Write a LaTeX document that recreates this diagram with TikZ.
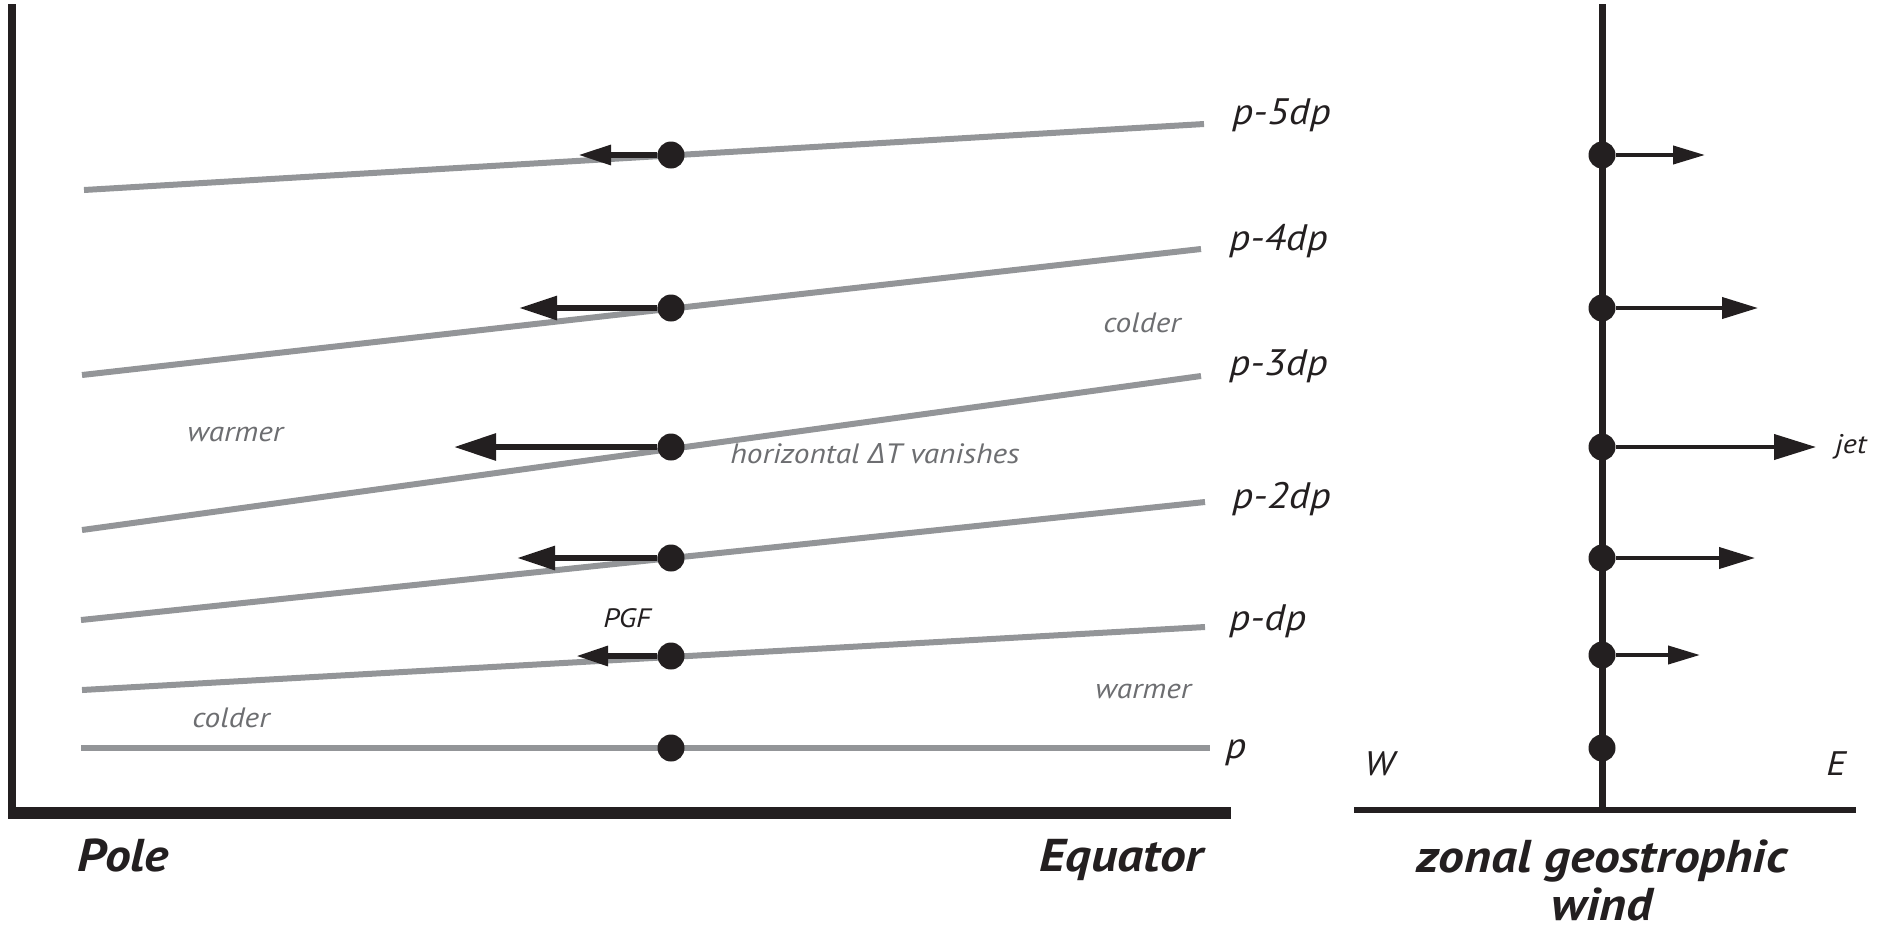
\documentclass[tikz,border=0pt]{standalone}
\usepackage{fontspec}
\setmainfont[FakeStretch=1.12]{PT Sans}
\newfontfamily\deltafont[FakeStretch=1.12]{Open Sans}
\newfontfamily\widefont[FakeStretch=1.12]{PT Sans}
\usetikzlibrary{arrows.meta}
\definecolor{ink}{HTML}{231F20}
\definecolor{isobar}{HTML}{939598}
\definecolor{note}{HTML}{6D6E71}
\begin{document}
\begin{tikzpicture}[x=0.5pt,y=-0.5pt,
  axisline/.style={ink, line width=#1},
  isoline/.style={isobar, line width=3pt},
  parcel/.style={circle, fill=ink, inner sep=0pt, minimum size=13.5pt},
  pgfarrow/.style args={#1/#2}{ink, line width=3pt, -{Triangle[length=#1, width=#2]}},
  windarrow/.style args={#1/#2}{ink, line width=2pt, -{Triangle[length=#1, width=#2]}},
  plabel/.style={anchor=base west, inner sep=0pt, text=ink, font=\fontsize{18.4pt}{18.4pt}\selectfont\itshape},
  graylabel/.style={anchor=base west, inner sep=0pt, text=note, font=\fontsize{14pt}{14pt}\selectfont\itshape},
  blacklabel/.style={anchor=base west, inner sep=0pt, text=ink, font=\fontsize{13.3pt}{13.3pt}\selectfont\itshape},
  bigtitle/.style={inner sep=0pt, text=ink, font=\fontsize{23pt}{23pt}\selectfont\bfseries\itshape},
  widetitle/.style={inner sep=0pt, text=ink, font=\fontsize{23pt}{27pt}\widefont\bfseries\itshape, align=center},
]
\useasboundingbox (0,0) rectangle (1889,933);

% ---------- left panel: axes ----------
\coordinate (vtop) at (12,4);
\coordinate (vbot) at (12,813);
\coordinate (hl) at (8,813);
\coordinate (hr) at (1231,813);
\draw[axisline=4pt] (vtop) -- (vbot);
\draw[axisline=6pt] (hl) -- (hr);

% ---------- isobars ----------
\coordinate (L0) at (81,748);  \coordinate (R0) at (1210,748);
\coordinate (L1) at (82,690);  \coordinate (R1) at (1205,627);
\coordinate (L2) at (81,620);  \coordinate (R2) at (1205,502);
\coordinate (L3) at (82,530);  \coordinate (R3) at (1201,376);
\coordinate (L4) at (82,375);  \coordinate (R4) at (1201,249);
\coordinate (L5) at (84,190);  \coordinate (R5) at (1204,124);
\foreach \i in {0,...,5} { \draw[isoline] (L\i) -- (R\i); }

% ---------- parcels on isobars ----------
\node[parcel] (d0) at (671,748) {};
\node[parcel] (d1) at (671,656) {};
\node[parcel] (d2) at (671,558) {};
\node[parcel] (d3) at (671,447) {};
\node[parcel] (d4) at (671,308) {};
\node[parcel] (d5) at (671,155) {};

% ---------- PGF arrows ----------
\coordinate (t1) at (576,656);
\coordinate (t2) at (517,558);
\coordinate (t3) at (454,447);
\coordinate (t4) at (519,308);
\coordinate (t5) at (578,155);
\draw[pgfarrow=16pt/9.5pt] (d1) -- (t1);
\draw[pgfarrow=19pt/11.5pt] (d2) -- (t2);
\draw[pgfarrow=21pt/13pt] (d3) -- (t3);
\draw[pgfarrow=19pt/11.5pt] (d4) -- (t4);
\draw[pgfarrow=16.5pt/9.5pt] (d5) -- (t5);

% ---------- isobar labels ----------
\node[plabel] (lab0) at (1225,758) {p};
\node[plabel] (lab1) at (1229,630) {p-dp};
\node[plabel] (lab2) at (1232,508) {p-2dp};
\node[plabel] (lab3) at (1229,375) {p-3dp};
\node[plabel] (lab4) at (1229,250) {p-4dp};
\node[plabel] (lab5) at (1232,124) {p-5dp};

% ---------- annotations ----------
\node[graylabel] (coldR) at (1103,332) {colder};
\node[graylabel] (warmL) at (187,441) {warmer};
\node[graylabel] (vanish) at (730,463) {horizontal {\deltafont\itshape Δ}T vanishes};
\node[graylabel] (warmR) at (1095,698) {warmer};
\node[graylabel] (coldL) at (192,727) {colder};
\node[blacklabel] (pgf) at (603,627) {PGF};

\node[bigtitle, anchor=base west] (pole) at (77,871) {Pole};
\node[bigtitle, anchor=base east] (equator) at (1204,871) {Equator};

% ---------- right panel ----------
\coordinate (wtop) at (1602,4);
\coordinate (wbot) at (1602,810);
\coordinate (wl) at (1354,810);
\coordinate (wr) at (1856,810);
\draw[axisline=3.5pt] (wtop) -- (wbot);
\draw[axisline=3pt] (wl) -- (wr);

\node[parcel] (w0) at (1602,748) {};
\node[parcel] (w1) at (1602,655) {};
\node[parcel] (w2) at (1602,558) {};
\node[parcel] (w3) at (1602,447) {};
\node[parcel] (w4) at (1602,308) {};
\node[parcel] (w5) at (1602,155) {};

\coordinate (u1) at (1700,655);
\coordinate (u2) at (1755,558);
\coordinate (u3) at (1816,447);
\coordinate (u4) at (1758,308);
\coordinate (u5) at (1705,155);
\draw[windarrow=16pt/9pt] (w1) -- (u1);
\draw[windarrow=18pt/10.5pt] (w2) -- (u2);
\draw[windarrow=21pt/12.5pt] (w3) -- (u3);
\draw[windarrow=18pt/10.5pt] (w4) -- (u4);
\draw[windarrow=16pt/9pt] (w5) -- (u5);

\node[blacklabel, font=\fontsize{13.5pt}{13.5pt}\selectfont\itshape] (jet) at (1835,453) {jet};
\node[plabel, font=\fontsize{17pt}{17pt}\selectfont\itshape] (west) at (1364,775) {W};
\node[plabel, font=\fontsize{17pt}{17pt}\selectfont\itshape] (east) at (1826,775) {E};

\node[widetitle, anchor=base] (zonal) at (1602,872) {zonal geostrophic};
\node[widetitle, anchor=base] (wind) at (1602,920) {wind};
\end{tikzpicture}
\end{document}
